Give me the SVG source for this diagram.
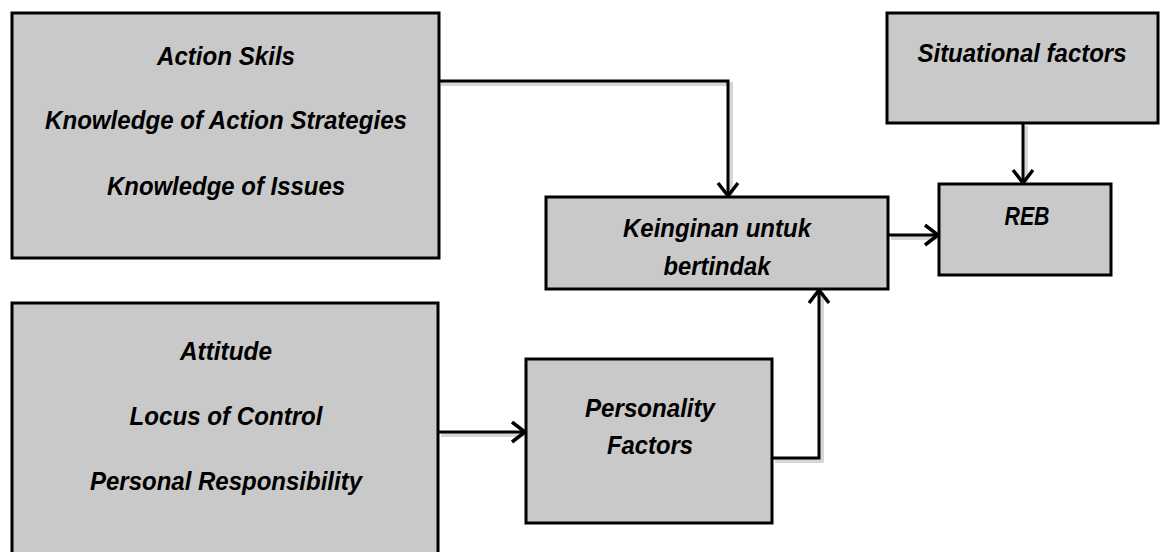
<svg xmlns="http://www.w3.org/2000/svg" width="1163" height="552" viewBox="0 0 1163 552">
<defs>
<style>
.box{fill:#c9c9c9;stroke:#000;stroke-width:3}
.t{font-family:"Liberation Sans",Arial,sans-serif;font-weight:bold;font-style:italic;font-size:26px;fill:#000;text-anchor:middle}
.c{fill:none;stroke:#000;stroke-width:3;stroke-linejoin:miter}
.sh{fill:none;stroke:#bbb;stroke-width:4;opacity:0.6}
</style>
<marker id="a" markerWidth="20" markerHeight="24" refX="15" refY="11" orient="auto" markerUnits="userSpaceOnUse">
<path d="M2,1 L15,11 L2,21" fill="none" stroke="#000" stroke-width="3.5"/>
</marker>
</defs>
<rect width="1163" height="552" fill="#fff"/>
<g id="connectors">
<path class="sh" d="M441,84 H731 V195"/>
<path class="sh" d="M1026,126 V182"/>
<path class="sh" d="M891,238 H937"/>
<path class="sh" d="M441,435 H524"/>
<path class="sh" d="M775,461 H822 V292"/>
<path class="c" d="M439,81 H728 V196" marker-end="url(#a)"/>
<path class="c" d="M1023,123 V183" marker-end="url(#a)"/>
<path class="c" d="M888,235 H938" marker-end="url(#a)"/>
<path class="c" d="M439,432 H525" marker-end="url(#a)"/>
<path class="c" d="M772,458 H819 V290" marker-end="url(#a)"/>
</g>
<g id="box-action">
<rect class="box" x="12" y="13" width="427" height="245"/>
<text class="t" x="226" y="65" textLength="138" lengthAdjust="spacingAndGlyphs">Action Skils</text>
<text class="t" x="226" y="129" textLength="362" lengthAdjust="spacingAndGlyphs">Knowledge of Action Strategies</text>
<text class="t" x="226" y="195" textLength="238" lengthAdjust="spacingAndGlyphs">Knowledge of Issues</text>
</g>
<g id="box-attitude">
<rect class="box" x="12" y="303" width="426" height="262"/>
<text class="t" x="226" y="360" textLength="92" lengthAdjust="spacingAndGlyphs">Attitude</text>
<text class="t" x="226" y="425" textLength="193" lengthAdjust="spacingAndGlyphs">Locus of Control</text>
<text class="t" x="226" y="490" textLength="272" lengthAdjust="spacingAndGlyphs">Personal Responsibility</text>
</g>
<g id="box-keinginan">
<rect class="box" x="546" y="197" width="342" height="92"/>
<text class="t" x="717" y="237" textLength="188" lengthAdjust="spacingAndGlyphs">Keinginan untuk</text>
<text class="t" x="717" y="275" textLength="107" lengthAdjust="spacingAndGlyphs">bertindak</text>
</g>
<g id="box-situational">
<rect class="box" x="887" y="13" width="271" height="110"/>
<text class="t" x="1022" y="62" textLength="209" lengthAdjust="spacingAndGlyphs">Situational factors</text>
</g>
<g id="box-reb">
<rect class="box" x="939" y="184" width="172" height="91"/>
<text class="t" x="1027" y="225" textLength="45" lengthAdjust="spacingAndGlyphs">REB</text>
</g>
<g id="box-personality">
<rect class="box" x="526" y="359" width="246" height="164"/>
<text class="t" x="650" y="417" textLength="130" lengthAdjust="spacingAndGlyphs">Personality</text>
<text class="t" x="650" y="454" textLength="86" lengthAdjust="spacingAndGlyphs">Factors</text>
</g>
</svg>
